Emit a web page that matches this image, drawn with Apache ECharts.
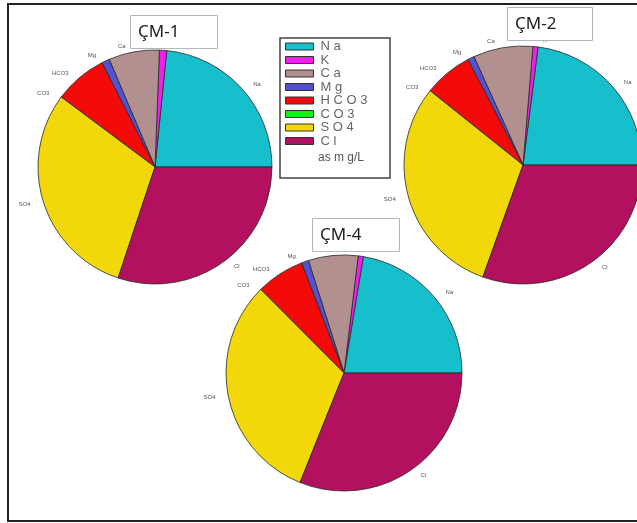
<!DOCTYPE html>
<html>
<head>
<meta charset="utf-8">
<script src="https://cdn.jsdelivr.net/npm/echarts@6/dist/echarts.min.js"></script>
<style>
html,body{margin:0;padding:0;background:#fff;}
#chart{width:637px;height:523px;}
</style>
</head>
<body>
<div id="chart"></div>
<script>
// Ions (as mg/L)
var categories = ['Na', 'K', 'Ca', 'Mg', 'HCO3', 'CO3', 'SO4', 'Cl'];
var cm1Values = [23.4, 1.0, 7.0, 1.1, 7.3, 0, 30.1, 30.1];
var cm2Values = [23.0, 0.7, 8.1, 0.9, 6.6, 0, 30.3, 30.5];
var cm4Values = [22.4, 0.7, 6.8, 1.0, 6.6, 0, 31.5, 31.1];
var sampleNames = ['\u00C7M-1', '\u00C7M-2', '\u00C7M-4'];
var unitLabel = 'as m g/L';

var colors = ['#17bfcd', '#f01ff0', '#b39090', '#5252cc', '#f50a0a', '#14f014', '#f2d80a', '#b3105f'];

function makeData(vals) {
  return categories.map(function (c, i) { return { name: c, value: vals[i] }; });
}

function pieSeries(name, vals, center, radius) {
  return {
    type: 'pie',
    name: name,
    center: center,
    radius: radius,
    startAngle: 0,
    clockwise: false,
    avoidLabelOverlap: false,
    animation: false,
    minShowLabelAngle: 0,
    itemStyle: { borderColor: '#2a2a2a', borderWidth: 0.8 },
    label: {
      show: true, position: 'outside', color: '#555',
      fontSize: 6, fontFamily: 'Liberation Sans', formatter: '{b}'
    },
    labelLine: { show: false, length: 6, length2: 2 },
    emphasis: { disabled: true },
    data: makeData(vals)
  };
}

function titleBox(text, left, top, padRight) {
  return {
    text: text, left: left, top: top,
    padding: [7, padRight, 7, 8],
    borderColor: '#b5b5b5', borderWidth: 1, backgroundColor: '#fff',
    textStyle: { fontFamily: 'Noto Sans', fontSize: 17, fontWeight: 'normal', color: '#222', lineHeight: 20 }
  };
}

var chart = echarts.init(document.getElementById('chart'), null, { renderer: 'canvas' });
chart.setOption({
  backgroundColor: '#fff',
  color: colors,
  title: [
    titleBox(sampleNames[0], 130, 15, 38),
    titleBox(sampleNames[1], 507, 7, 36),
    titleBox(sampleNames[2], 312, 218, 38)
  ],
  legend: {
    orient: 'vertical', left: 280, top: 35,
    itemWidth: 28, itemHeight: 7, itemGap: 0.5,
    icon: 'rect',
    itemStyle: { borderColor: '#333', borderWidth: 1 },
    data: categories,
    formatter: function (n) { return n.split('').join(' '); },
    textStyle: { fontFamily: 'Liberation Sans', fontSize: 13, color: '#666', padding: [0, 0, 0, 2], lineHeight: 13 }
  },
  graphic: [
    { type: 'rect', shape: { x: 8, y: 4, width: 640, height: 517 }, style: { fill: null, stroke: '#222', lineWidth: 2 }, z: 100 },
    { type: 'rect', shape: { x: 280, y: 38, width: 110, height: 140 }, style: { fill: null, stroke: '#444', lineWidth: 1.5 }, z: 100 },
    { type: 'text', left: 318, top: 152, style: { text: unitLabel, fill: '#555', font: '12px "Liberation Sans"' }, z: 100 }
  ],
  series: [
    pieSeries(sampleNames[0], cm1Values, [155, 167], 117),
    pieSeries(sampleNames[1], cm2Values, [523, 165], 119),
    pieSeries(sampleNames[2], cm4Values, [344, 373], 118)
  ]
});
</script>
</body>
</html>
